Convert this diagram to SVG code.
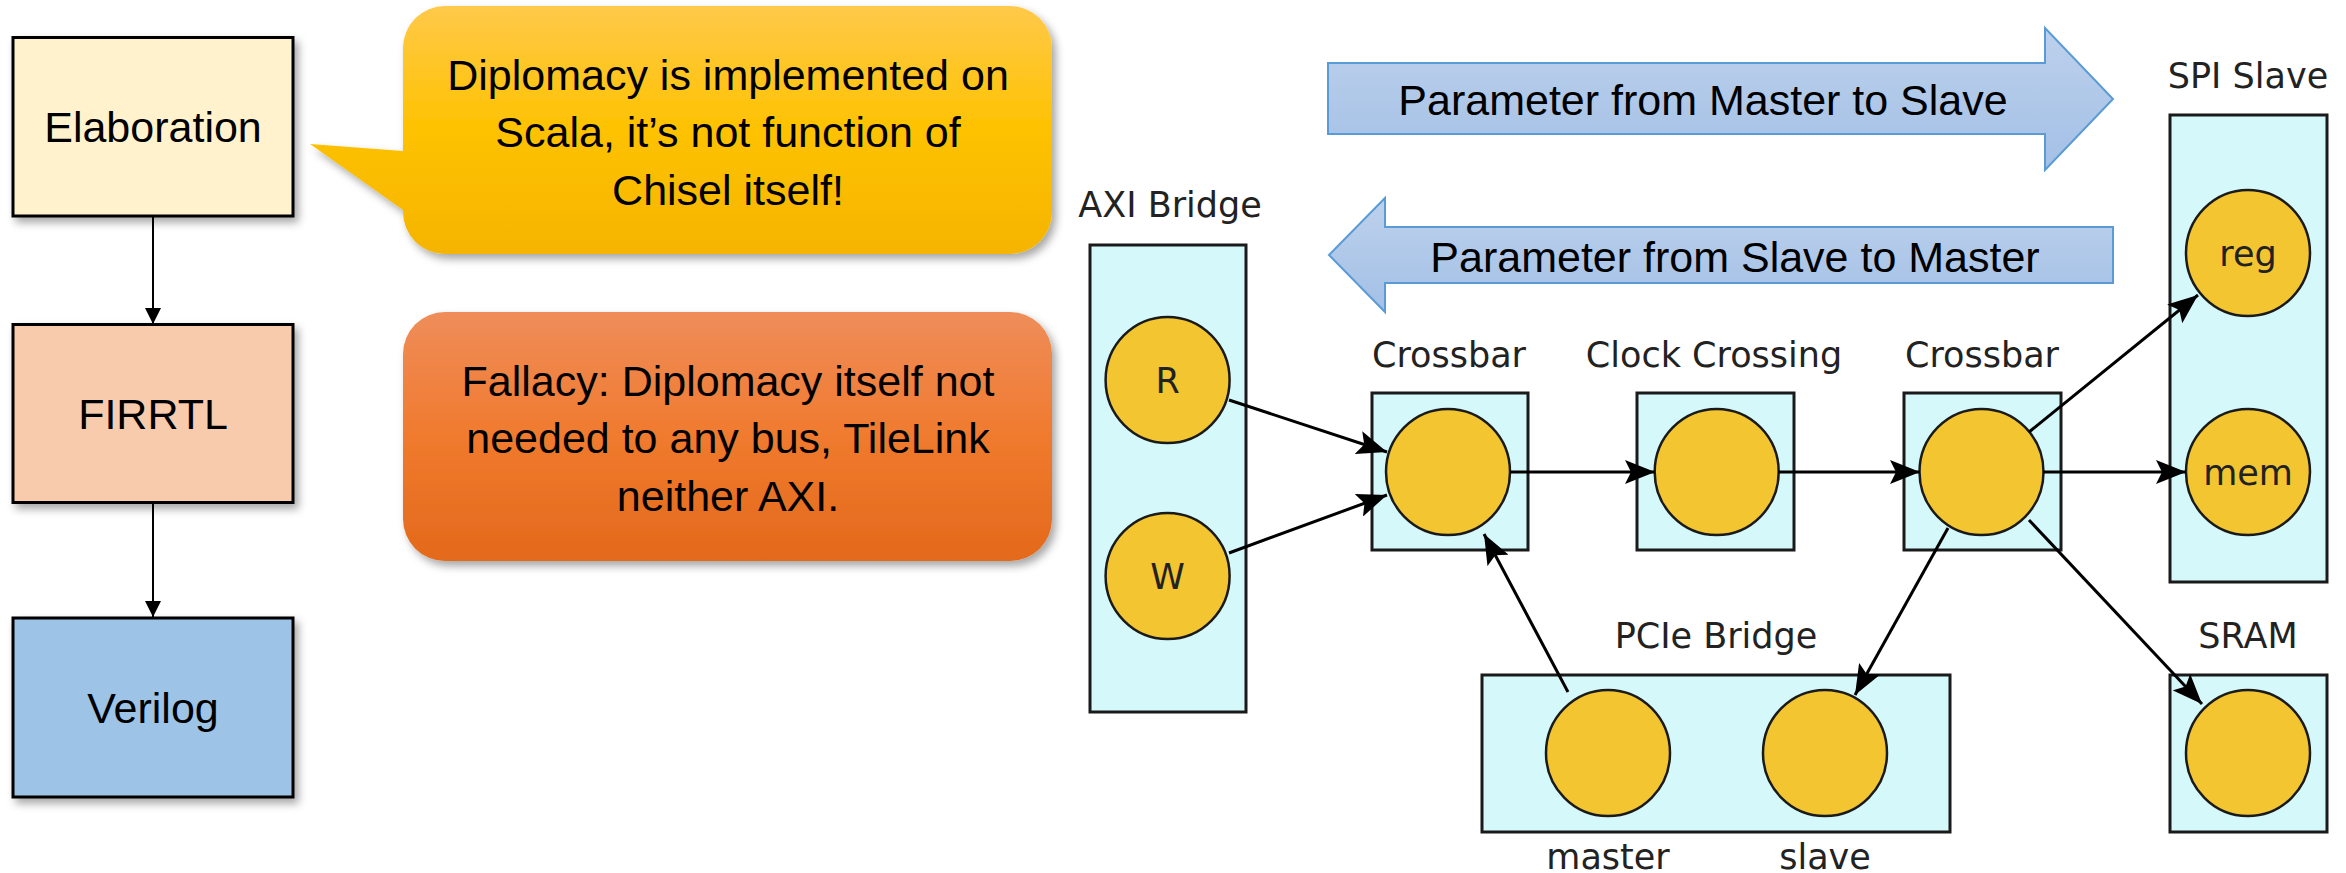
<svg xmlns="http://www.w3.org/2000/svg" width="2346" height="873" viewBox="0 0 2346 873">
<style>
.flow{stroke:#000;stroke-width:3}
.lbl{font-family:"Liberation Sans",Arial,sans-serif;font-size:43px;fill:#000;text-anchor:middle}
.dlbl{font-family:"DejaVu Sans",Verdana,sans-serif;font-size:35px;fill:#222;text-anchor:middle}
.box{fill:#D5F8FB;stroke:#1a1a1a;stroke-width:3}
.nd{fill:#F2C531;stroke:#1a1a1a;stroke-width:2.5}
.edge{stroke:#000;stroke-width:3;fill:none;marker-end:url(#ah)}
.small{stroke:#000;stroke-width:2;fill:none;marker-end:url(#sh)}
.blue{stroke:#5B9BD5;stroke-width:2;fill:url(#gb)}
</style>
<defs>
<linearGradient id="gy" x1="0" y1="0" x2="0" y2="1"><stop offset="0" stop-color="#FFC94A"/><stop offset="0.5" stop-color="#FEC200"/><stop offset="1" stop-color="#F5B400"/></linearGradient>
<linearGradient id="go" x1="0" y1="0" x2="0" y2="1"><stop offset="0" stop-color="#EF8D5A"/><stop offset="0.5" stop-color="#F07A2E"/><stop offset="1" stop-color="#E3691B"/></linearGradient>
<linearGradient id="gb" x1="0" y1="0" x2="0" y2="1"><stop offset="0" stop-color="#BDD1EC"/><stop offset="1" stop-color="#A3C0E6"/></linearGradient>
<filter id="sh1" x="-10%" y="-10%" width="130%" height="130%"><feDropShadow dx="4" dy="5" stdDeviation="4" flood-color="#000" flood-opacity="0.35"/></filter>
<marker id="ah" markerUnits="userSpaceOnUse" markerWidth="32" markerHeight="24" viewBox="0 0 32 24" refX="30" refY="12" orient="auto"><path d="M0,0 L30,12 L0,24 L6,12 Z" fill="#000"/></marker>
<marker id="sh" markerUnits="userSpaceOnUse" markerWidth="16" markerHeight="16" viewBox="0 0 16 16" refX="16" refY="8" orient="auto"><path d="M0,0 L16,8 L0,16 Z" fill="#000"/></marker>
</defs>
<rect x="0" y="0" width="2346" height="873" fill="#fff"/>

<g id="elaboration">
<rect x="13" y="37.5" width="280" height="178.5" fill="#FFF2CC" stroke="#000" stroke-width="3" filter="url(#sh1)"/>
<text class="lbl" x="153" y="142">Elaboration</text>
</g>
<g id="firrtl">
<rect x="13" y="324.5" width="280" height="178" fill="#F8CBAD" stroke="#000" stroke-width="3" filter="url(#sh1)"/>
<text class="lbl" x="153" y="429">FIRRTL</text>
</g>
<g id="verilog">
<rect x="13" y="618" width="280" height="179" fill="#9DC3E6" stroke="#000" stroke-width="3" filter="url(#sh1)"/>
<text class="lbl" x="153" y="723">Verilog</text>
</g>

<g id="callout-scala">
<path d="M445 6 H1010 A42 42 0 0 1 1052 48 V212 A42 42 0 0 1 1010 254 H445 A42 42 0 0 1 403 212 V210 L310 144 L403 151 V48 A42 42 0 0 1 445 6 Z" fill="url(#gy)" filter="url(#sh1)"/>
<text class="lbl" x="728" y="90">Diplomacy is implemented on</text>
<text class="lbl" x="728" y="147">Scala, it’s not function of</text>
<text class="lbl" x="728" y="205">Chisel itself!</text>
</g>
<g id="callout-fallacy">
<rect x="403" y="312" width="649" height="249" rx="42" fill="url(#go)" filter="url(#sh1)"/>
<text class="lbl" x="728" y="396">Fallacy: Diplomacy itself not</text>
<text class="lbl" x="728" y="453">needed to any bus, TileLink</text>
<text class="lbl" x="728" y="511">neither AXI.</text>
</g>

<g id="arrow-m2s">
<path class="blue" d="M1328 63 H2045 V28 L2113 99 L2045 170 V134 H1328 Z"/>
<text class="lbl" x="1703" y="115">Parameter from Master to Slave</text>
</g>
<g id="arrow-s2m">
<path class="blue" d="M2113 227 H1385 V198 L1329 255 L1385 312 V283 H2113 Z"/>
<text class="lbl" x="1735" y="272">Parameter from Slave to Master</text>
</g>

<g id="axi-bridge">
<text class="dlbl" x="1170" y="217">AXI Bridge</text>
<rect class="box" x="1090" y="245" width="156" height="467"/>
<ellipse class="nd" cx="1167.6" cy="380" rx="62" ry="63"/>
<text class="dlbl" x="1167.6" y="393">R</text>
<ellipse class="nd" cx="1167.6" cy="576" rx="62" ry="63"/>
<text class="dlbl" x="1167.6" y="589">W</text>
</g>
<g id="crossbar1">
<text class="dlbl" x="1449" y="367">Crossbar</text>
<rect class="box" x="1372" y="393" width="156" height="157"/>
<ellipse class="nd" cx="1448" cy="472" rx="62" ry="63"/>
</g>
<g id="clock-crossing">
<text class="dlbl" x="1714" y="367">Clock Crossing</text>
<rect class="box" x="1637" y="393" width="157" height="157"/>
<ellipse class="nd" cx="1716.7" cy="472" rx="62" ry="63"/>
</g>
<g id="crossbar2">
<text class="dlbl" x="1982" y="367">Crossbar</text>
<rect class="box" x="1904" y="393" width="157" height="157"/>
<ellipse class="nd" cx="1981.5" cy="472" rx="62" ry="63"/>
</g>
<g id="spi-slave">
<text class="dlbl" x="2248" y="88">SPI Slave</text>
<rect class="box" x="2170" y="115" width="157" height="467"/>
<ellipse class="nd" cx="2248" cy="253" rx="62" ry="63"/>
<text class="dlbl" x="2248" y="266">reg</text>
<ellipse class="nd" cx="2248" cy="472" rx="62" ry="63"/>
<text class="dlbl" x="2248" y="485">mem</text>
</g>
<g id="pcie-bridge">
<text class="dlbl" x="1716" y="648">PCIe Bridge</text>
<rect class="box" x="1482" y="675" width="468" height="157"/>
<ellipse class="nd" cx="1608" cy="753" rx="62" ry="63"/>
<ellipse class="nd" cx="1825" cy="753" rx="62" ry="63"/>
<text class="dlbl" x="1608" y="869">master</text>
<text class="dlbl" x="1825" y="869">slave</text>
</g>
<g id="sram">
<text class="dlbl" x="2248" y="648">SRAM</text>
<rect class="box" x="2170" y="675" width="157" height="157"/>
<ellipse class="nd" cx="2248" cy="753" rx="62" ry="63"/>
</g>

<g id="connectors">
<line class="small" x1="153" y1="216" x2="153" y2="324"/>
<line class="small" x1="153" y1="503" x2="153" y2="617"/>
<line class="edge" x1="1229" y1="400" x2="1387" y2="452"/>
<line class="edge" x1="1229" y1="553" x2="1387" y2="495"/>
<line class="edge" x1="1510" y1="472" x2="1655" y2="472"/>
<line class="edge" x1="1778" y1="472" x2="1920" y2="472"/>
<line class="edge" x1="2043" y1="472" x2="2186" y2="472"/>
<line class="edge" x1="2029" y1="432" x2="2198" y2="295"/>
<line class="edge" x1="1948" y1="528" x2="1855" y2="695"/>
<line class="edge" x1="2029" y1="520" x2="2202" y2="704"/>
<line class="edge" x1="1568" y1="692" x2="1484" y2="534"/>
</g>
</svg>
